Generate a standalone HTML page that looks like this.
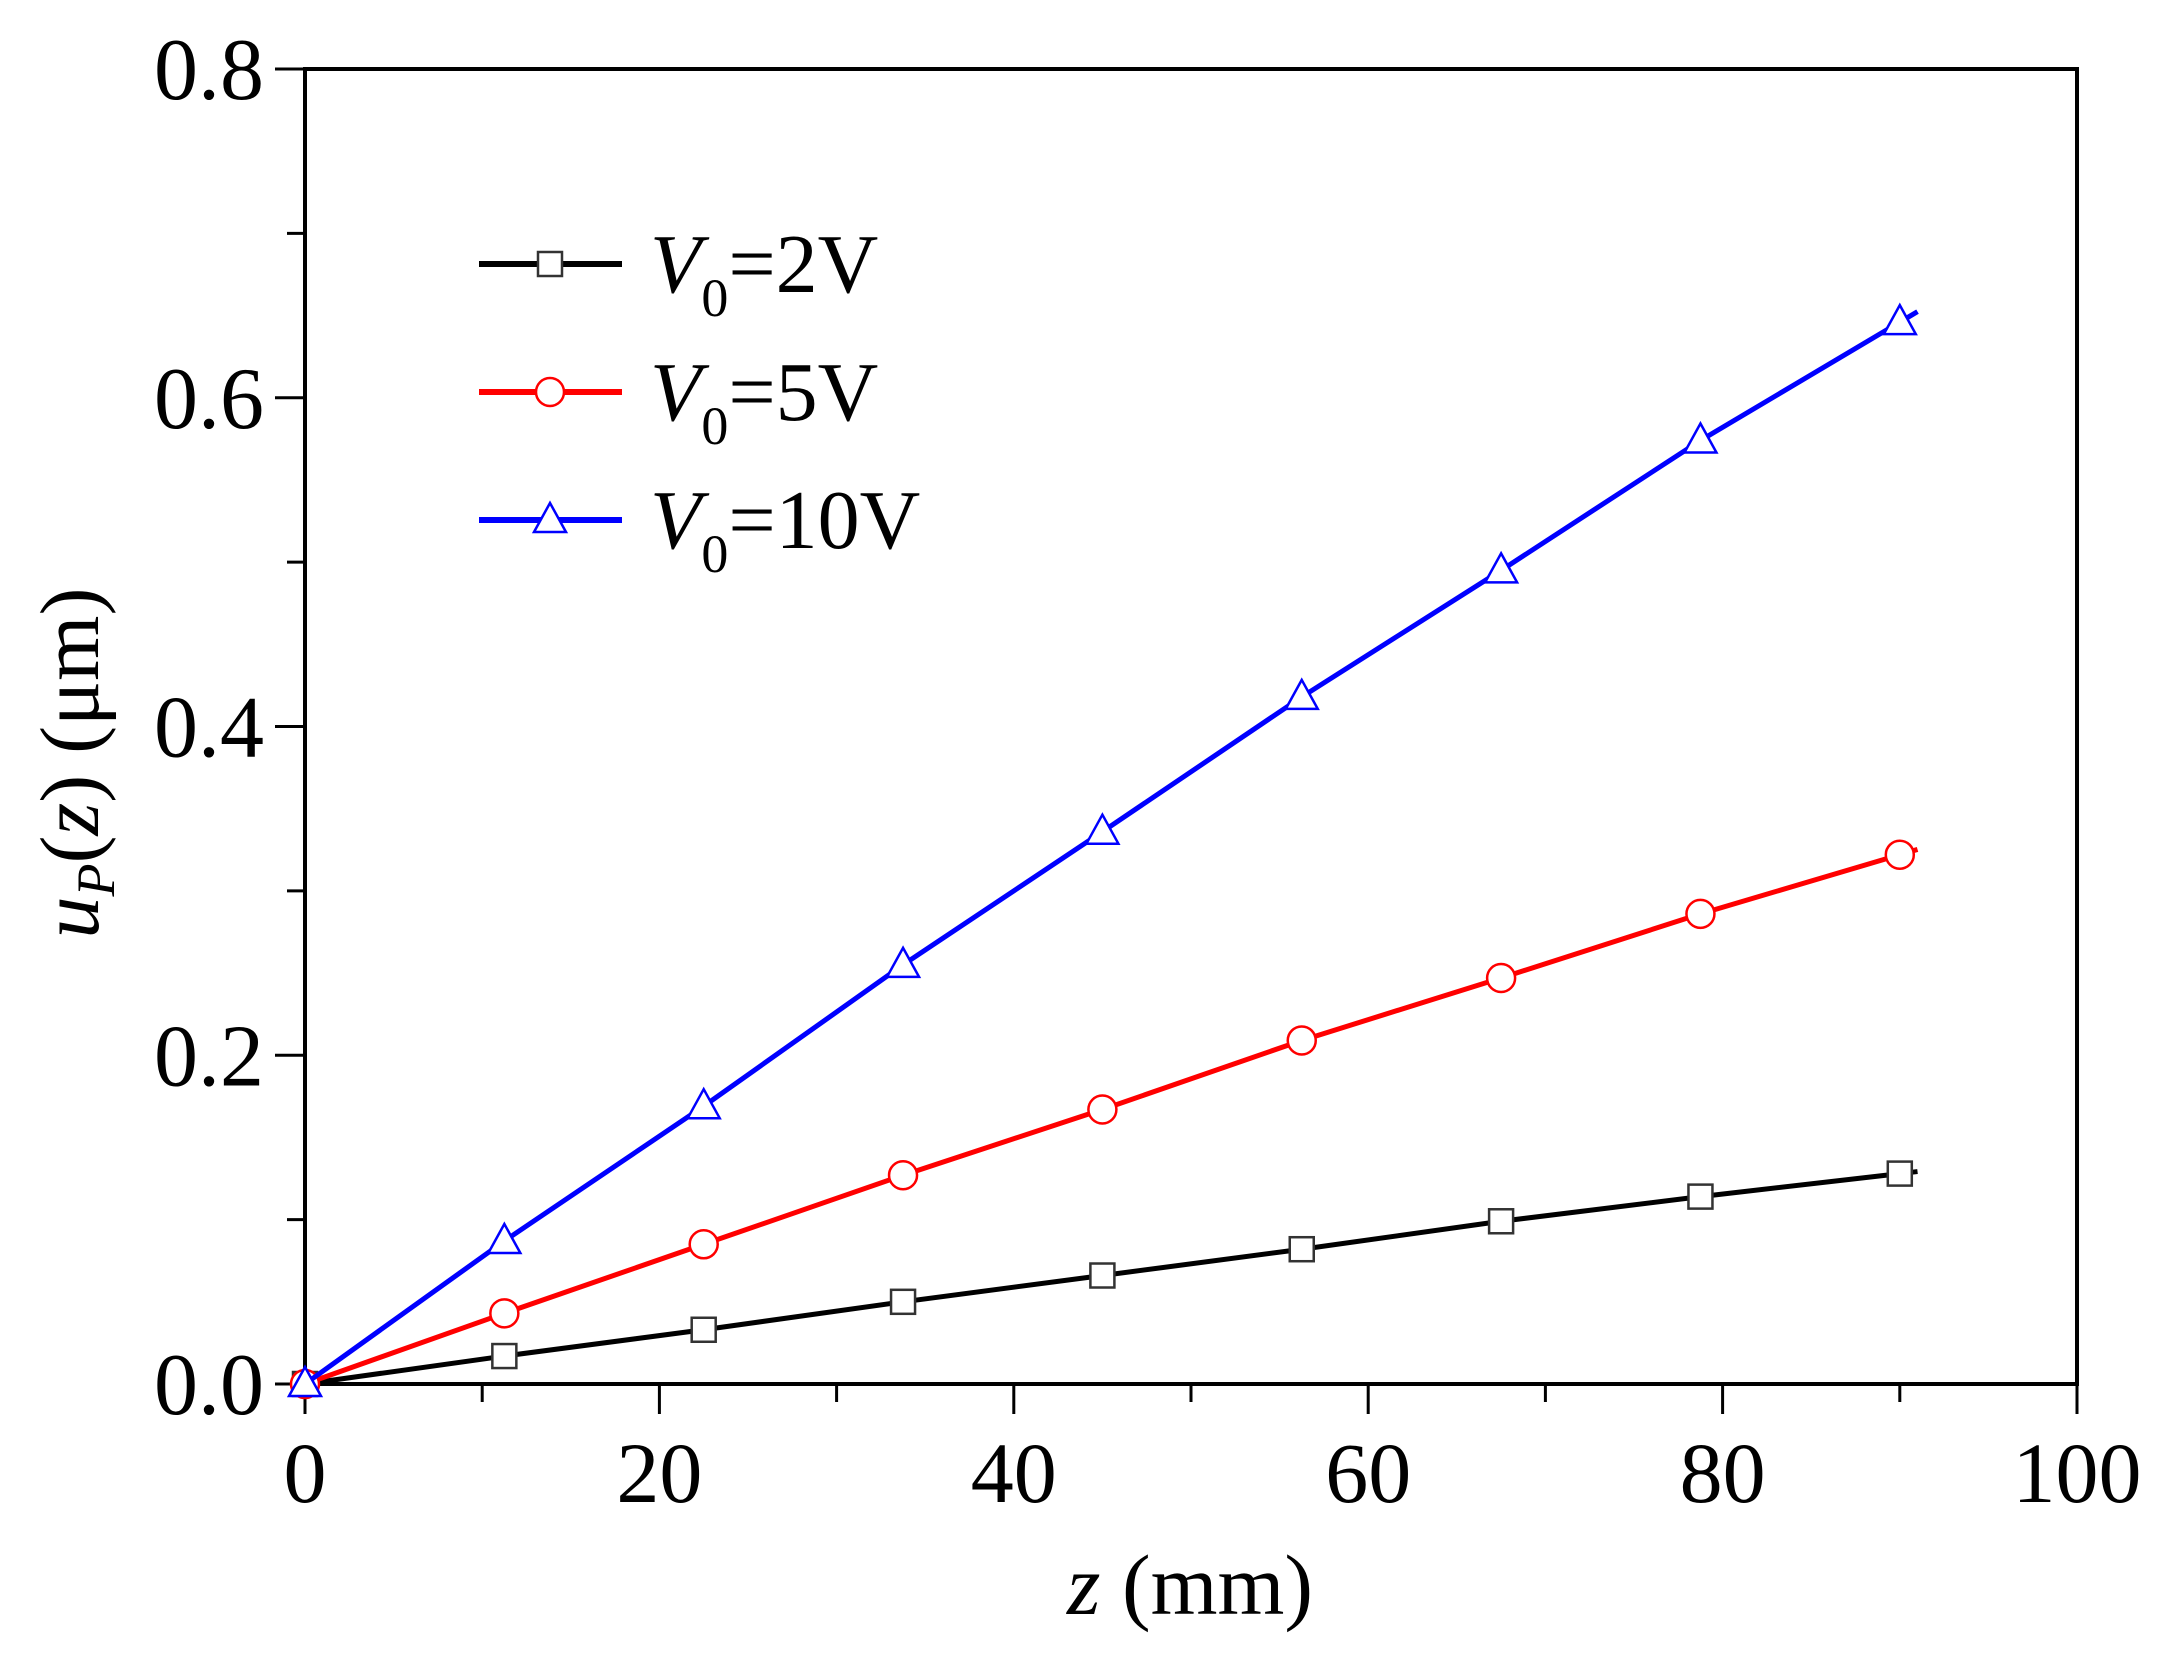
<!DOCTYPE html>
<html><head><meta charset="utf-8"><style>
body{margin:0;background:#fff}
svg{display:block;font-family:"Liberation Serif",serif}
</style></head><body>
<svg id="chart" width="2157" height="1655" viewBox="0 0 2157 1655" xmlns="http://www.w3.org/2000/svg">
<g id="plot"></g>
</svg>
<script>
const xValues=[0,11.25,22.5,33.75,45,56.25,67.5,78.75,90];
const seriesV2=[0,0.017,0.033,0.05,0.066,0.082,0.099,0.114,0.128];
const seriesV5=[0,0.043,0.085,0.127,0.167,0.209,0.247,0.286,0.322];
const seriesV10=[0,0.087,0.169,0.255,0.336,0.418,0.495,0.574,0.646];
const xTicks=[0,20,40,60,80,100];
const yTicks=[0.0,0.2,0.4,0.6,0.8];
const X0=305,X1=2077,Y0=1384,Y1=69;
const sx=v=>X0+(v-0)/(100-0)*(X1-X0);
const sy=v=>Y0-(v-0)/(0.8-0)*(Y0-Y1);
const NS="http://www.w3.org/2000/svg";
const g=document.getElementById('plot');
function mk(t,a,p){const e=document.createElementNS(NS,t);for(const k in a)e.setAttribute(k,a[k]);(p||g).appendChild(e);return e;}
let fr=mk('rect',{x:X0,y:Y1,width:X1-X0,height:Y0-Y1,fill:'none',stroke:'#000','stroke-width':4});


for(let v=0;v<=100;v+=10){const major=v%20===0;
 const t=mk('line',{x1:sx(v),x2:sx(v),y1:Y0,y2:Y0+(major?30:18),stroke:'#000','stroke-width':3});
 
 }
xTicks.forEach(v=>{const t=mk('text',{x:sx(v),y:1502,'font-size':86,'text-anchor':'middle'});t.textContent=v;
 
 });
for(let i=0;i<=8;i++){const v=i*0.1;const major=i%2===0;
 const t=mk('line',{x1:X0,x2:X0-(major?30:18),y1:sy(v),y2:sy(v),stroke:'#000','stroke-width':3});
 
 }
yTicks.forEach(v=>{const t=mk('text',{x:264,y:sy(v)+30,'font-size':88,'text-anchor':'end'});t.textContent=v.toFixed(1);
 
 });
const xt=mk('text',{x:1190,y:1614,'font-size':86,'text-anchor':'middle'});
xt.innerHTML='<tspan font-style="italic">z</tspan> (mm)';


const yt=mk('text',{x:0,y:0,'font-size':84,'text-anchor':'middle',transform:'translate(98,763) rotate(-90)'});
yt.innerHTML='<tspan font-style="italic">u</tspan><tspan font-style="italic" font-size="54" dy="16">P</tspan><tspan dy="-16">(</tspan><tspan font-style="italic">z</tspan>) (μm)';


function marker(type,x,y,c,parent){
 if(type==='sq')return mk('rect',{x:x-12,y:y-12,width:24,height:24,fill:'#fff',stroke:'#333','stroke-width':2.5},parent);
 if(type==='ci')return mk('circle',{cx:x,cy:y,r:14,fill:'#fff',stroke:c,'stroke-width':2.5},parent);
 return mk('polygon',{points:`${x},${y-17} ${x-16},${y+12} ${x+16},${y+12}`,fill:'#fff',stroke:c,'stroke-width':2.5},parent);
}
const series=[[seriesV2,'#000','sq','2V'],[seriesV5,'#ff0000','ci','5V'],[seriesV10,'#0000ff','tr','10V']];
series.forEach(([vals,c,m,lab],si)=>{
 const sg=mk('g',{});
 
 
 const last=vals[vals.length-1],prev=vals[vals.length-2];
 const ext=last+(last-prev)*(1/11.25);
 let pts=xValues.map((x,i)=>sx(x)+','+sy(vals[i])).join(' ')+' '+sx(91)+','+sy(ext);
 mk('polyline',{points:pts,fill:'none',stroke:c,'stroke-width':5},sg);
 xValues.forEach((x,i)=>{const p=marker(m,sx(x),sy(vals[i]),c,sg);
  
  });
 const ly=264+si*128;
 const lg=mk('g',{});
 
 
 mk('line',{x1:479,x2:622,y1:ly,y2:ly,stroke:c,'stroke-width':6},lg);
 marker(m,550,ly,c,lg);
 const t=mk('text',{x:650,y:ly+28,'font-size':84},lg);
 t.innerHTML='<tspan font-style="italic">V</tspan><tspan font-size="54" dy="24">0</tspan><tspan dy="-24">='+lab+'</tspan>';
});
</script>
</body></html>
